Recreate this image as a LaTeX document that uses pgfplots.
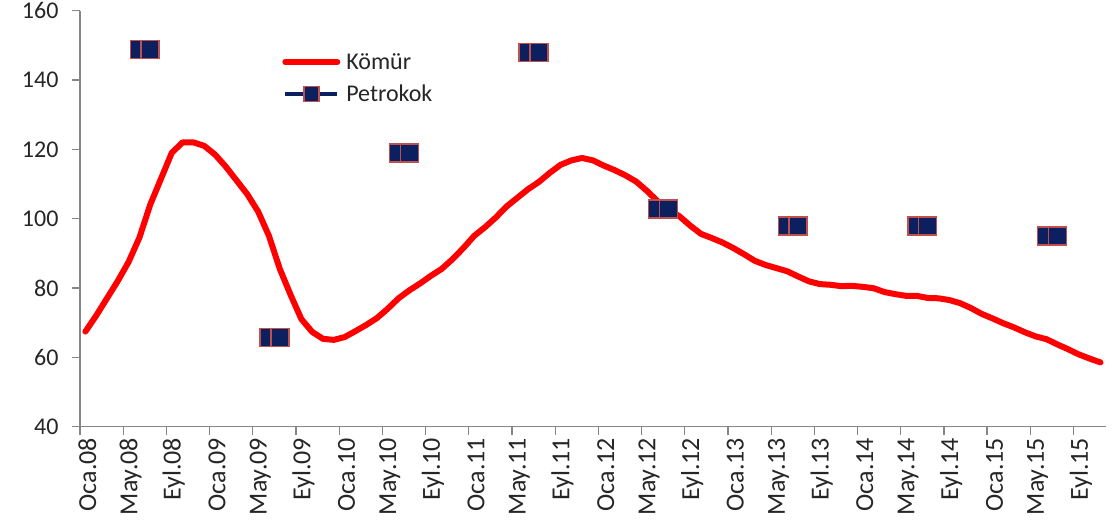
\documentclass[border=0pt]{standalone}
\usepackage{pgfplots}
\pgfplotsset{compat=1.18}
\usepackage{fontspec}
\setmainfont{Carlito}
\definecolor{komur}{HTML}{FF0000}
\definecolor{navy}{HTML}{0C1F5E}
\definecolor{mkborder}{HTML}{C0504D}
\definecolor{axisgrey}{HTML}{868686}
\definecolor{txt}{HTML}{262626}
\pgfplotstableread{
x y
0 67.4
1 72
2 77
3 82
4 87.5
5 94.5
6 104
7 111.5
8 119
9 122
10 122
11 121
12 118.5
13 115
14 111
15 107
16 102
17 95
18 85.5
19 78
20 71
21 67.3
22 65.3
23 65
24 65.8
25 67.5
26 69.3
27 71.3
28 74
29 77
30 79.3
31 81.3
32 83.5
33 85.5
34 88.3
35 91.5
36 95
37 97.5
38 100.3
39 103.5
40 106
41 108.5
42 110.6
43 113.2
44 115.5
45 116.8
46 117.5
47 116.8
48 115.3
49 114
50 112.5
51 110.7
52 108
53 105
54 102.5
55 100.7
56 98
57 95.6
58 94.4
59 93.1
60 91.5
61 89.7
62 87.8
63 86.6
64 85.7
65 84.8
66 83.3
67 81.9
68 81.1
69 80.9
70 80.5
71 80.6
72 80.3
73 79.9
74 78.8
75 78.2
76 77.7
77 77.7
78 77.1
79 77
80 76.5
81 75.6
82 74.2
83 72.5
84 71.2
85 69.8
86 68.6
87 67.2
88 66
89 65.2
90 63.7
91 62.3
92 60.8
93 59.6
94 58.5
}\komurdata
\pgfplotstableread{
x y
5 148.8
6 148.8
7 nan
17 65.7
18 65.7
19 nan
29 119
30 119
31 nan
41 147.9
42 147.9
43 nan
53 102.7
54 102.7
55 nan
65 97.9
66 97.9
67 nan
77 97.9
78 97.9
79 nan
89 95
90 95
}\petrodata
\begin{document}
\begin{tikzpicture}
\useasboundingbox (-80pt,-96.5pt) rectangle (1033pt,426.5pt);
\begin{axis}[
  at={(0pt,0pt)}, anchor=south west,
  scale only axis, width=1026pt, height=415.8pt,
  xmin=-0.5, xmax=94.5, ymin=40, ymax=160,
  axis x line*=bottom, axis y line*=left,
  axis line style={axisgrey, line width=1.2pt},
  ytick={40,60,...,160},
  xtick={0,4,...,92},
  xticklabels={Oca.08,May.08,Eyl.08,Oca.09,May.09,Eyl.09,Oca.10,May.10,Eyl.10,Oca.11,May.11,Eyl.11,Oca.12,May.12,Eyl.12,Oca.13,May.13,Eyl.13,Oca.14,May.14,Eyl.14,Oca.15,May.15,Eyl.15},
  minor xtick={-0.5,3.5,...,91.5},
  major x tick style={draw=none},
  tick style={axisgrey, line width=1.2pt},
  tick align=outside,
  major tick length=8pt, minor tick length=8pt,
  /pgf/number format/assume math mode=true,
  ticklabel style={font=\fontsize{24}{28}\selectfont, text=txt},
  yticklabel style={xshift=-10pt},
  xticklabel style={rotate=90, anchor=east, font=\fontsize{26}{30}\selectfont, yshift=-2pt},
  legend style={at={(axis description cs:0.197,0.90)}, anchor=north west, draw=none, fill=none,
    font=\fontsize{24}{28}\selectfont, text=txt, inner sep=0pt, row sep=12pt,
    nodes={inner sep=1pt},
    /tikz/every odd column/.append style={column sep=5pt}},
  legend cell align=left,
  legend image code/.code={\draw[mark repeat=2,mark phase=2,#1] plot coordinates {(0pt,0pt)(26pt,0pt)(52pt,0pt)};},
]
\addplot[komur, line width=6pt, line join=round, line cap=round] table[x=x,y=y] {\komurdata};
\addlegendentry{Kömür}
\addplot[navy, line width=4pt, mark=square*, mark size=9pt, unbounded coords=jump,
  mark options={fill=navy, draw=mkborder, line width=1.5pt, solid},
  legend image post style={mark size=7.5pt}] table[x=x,y=y] {\petrodata};
\addlegendentry{Petrokok}
\end{axis}
\end{tikzpicture}
\end{document}
